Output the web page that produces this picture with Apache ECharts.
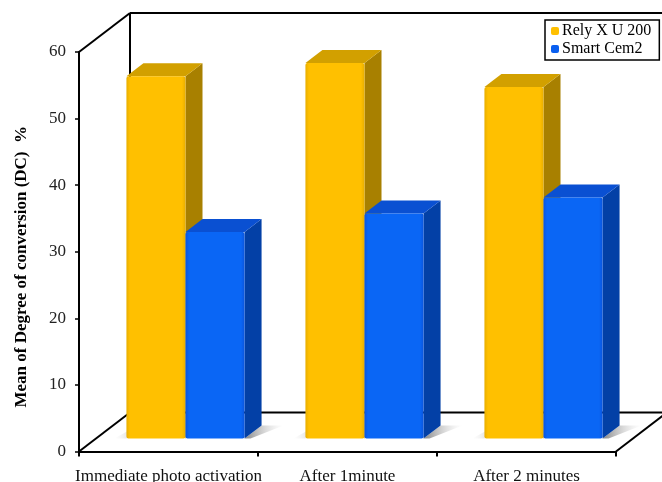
<!DOCTYPE html>
<html>
<head>
<meta charset="utf-8">
<script src="https://cdn.jsdelivr.net/npm/echarts@6/dist/echarts.min.js"></script>
<style>
html,body{margin:0;padding:0;background:#fff;}
#chart{width:662px;height:482px;}
</style>
</head>
<body>
<div id="chart"></div>
<script>
var categories = ['Immediate photo activation', 'After 1minute', 'After 2 minutes'];
var relyX = [54.4, 56.4, 52.8];
var smartCem = [31.0, 33.8, 36.2];
var yTicks = [0, 10, 20, 30, 40, 50, 60];

var DX = 51, DY = -39;          // depth of the 3D box
var BDX = DX / 3, BDY = DY / 3;  // bar depth
var SERIF = '"Liberation Serif", "Times New Roman", serif';

function barRenderer(seriesIdx, colors) {
  return function (params, api) {
    var ci = api.value(0), v = api.value(1);
    var base = api.coord([ci, 0]);
    var topP = api.coord([ci, v]);
    var cw = api.size([1, 0])[0];
    var w = cw * 0.33;
    var cx = base[0] + BDX;
    var xL = seriesIdx === 0 ? cx - w : cx;
    var xR = xL + w;
    var y0 = base[1] + BDY;
    var yt = topP[1] + BDY;
    var children = [];
    // floor shadow
    if (seriesIdx === 1) {
      children.push({
        type: 'polygon',
        shape: { points: [[xR, y0], [xR + BDX, y0 + BDY], [xR + BDX + 22, y0 + BDY], [xR + 6, y0]] },
        style: { fill: new echarts.graphic.LinearGradient(0, 0, 1, 0, [
          { offset: 0, color: 'rgba(90,90,90,0.75)' }, { offset: 1, color: 'rgba(200,200,200,0)' }]) }
      });
    } else {
      children.push({
        type: 'polygon',
        shape: { points: [[xL - 12, y0], [xL, y0], [xL + BDX, y0 + BDY], [xL + BDX - 6, y0 + BDY]] },
        style: { fill: new echarts.graphic.LinearGradient(1, 0, 0, 0, [
          { offset: 0, color: 'rgba(120,120,120,0.6)' }, { offset: 1, color: 'rgba(200,200,200,0)' }]) }
      });
    }
    // side face
    children.push({
      type: 'polygon',
      shape: { points: [[xR, yt], [xR + BDX, yt + BDY], [xR + BDX, y0 + BDY], [xR, y0]] },
      style: { fill: colors.side }
    });
    // top face
    children.push({
      type: 'polygon',
      shape: { points: [[xL, yt], [xR, yt], [xR + BDX, yt + BDY], [xL + BDX, yt + BDY]] },
      style: { fill: colors.top }
    });
    // front face
    children.push({
      type: 'rect',
      shape: { x: xL, y: yt, width: w, height: y0 - yt, r: 2 },
      style: { fill: new echarts.graphic.LinearGradient(0, 0, 1, 0, [
        { offset: 0, color: colors.edge }, { offset: 0.06, color: colors.front },
        { offset: 0.94, color: colors.front }, { offset: 1, color: colors.edge }]) }
    });
    return { type: 'group', children: children };
  };
}

function frameRenderer(params, api) {
  var cs = params.coordSys;
  var x = cs.x, y = cs.y, w = cs.width, h = cs.height;
  var ls = { stroke: '#000', lineWidth: 2 };
  var lines = [
    [x, y, x + DX, y + DY],
    [x, y + h, x + DX, y + h + DY],
    [x + DX, y + DY, x + DX, y + h + DY],
    [x + DX, y + DY, x + w + DX, y + DY],
    [x + DX, y + h + DY, x + w + DX, y + h + DY],
    [x + w, y + h, x + w + DX, y + h + DY]
  ];
  return {
    type: 'group',
    children: lines.map(function (l) {
      return { type: 'line', shape: { x1: l[0], y1: l[1], x2: l[2], y2: l[3] }, style: ls };
    })
  };
}

var chart = echarts.init(document.getElementById('chart'), null, { renderer: 'canvas' });
chart.setOption({
  backgroundColor: '#fff',
  animation: false,
  grid: { left: 79, right: 46, top: 52, bottom: 30.5, containLabel: false, outerBoundsMode: 'none' },
  legend: {
    data: ['Rely X U 200', 'Smart Cem2'],
    orient: 'vertical',
    left: 545, top: 20,
    padding: [3, 8, 3, 6],
    itemGap: 2,
    itemWidth: 8, itemHeight: 8,
    borderColor: '#000', borderWidth: 1.5,
    textStyle: { fontFamily: SERIF, fontSize: 16, color: '#000', padding: [0, 0, 0, -2] }
  },
  xAxis: {
    type: 'category',
    data: categories,
    axisLine: { lineStyle: { color: '#000', width: 2 } },
    axisTick: { show: true, length: 5, lineStyle: { color: '#000', width: 2 } },
    axisLabel: { interval: 0, fontFamily: SERIF, fontSize: 17, color: '#111', margin: 17 }
  },
  yAxis: {
    type: 'value',
    min: yTicks[0], max: yTicks[yTicks.length - 1], interval: 10,
    name: 'Mean of Degree of conversion (DC)  %',
    nameLocation: 'middle',
    nameRotate: 90,
    nameGap: 49,
    nameTextStyle: { fontFamily: SERIF, fontSize: 17, fontWeight: 'bold', color: '#000', padding: [0, 30, 0, 0] },
    axisLine: { show: true, lineStyle: { color: '#000', width: 2 } },
    axisTick: { show: true, length: 4, lineStyle: { color: '#000', width: 1.5 } },
    axisLabel: { fontFamily: SERIF, fontSize: 17, color: '#222', margin: 13 },
    splitLine: { show: false }
  },
  series: [
    {
      type: 'custom', name: 'frame', renderItem: frameRenderer,
      data: [[0, 0]], clip: false, z: 1, silent: true
    },
    {
      type: 'custom', name: 'Rely X U 200', z: 2,
      itemStyle: { color: '#FFC000' },
      renderItem: barRenderer(0, { front: '#FFC000', edge: '#E8AE00', top: '#D2A000', side: '#A88000' }),
      data: relyX.map(function (v, i) { return [i, v]; }),
      clip: false
    },
    {
      type: 'custom', name: 'Smart Cem2', z: 3,
      itemStyle: { color: '#0A5FF0' },
      renderItem: barRenderer(1, { front: '#0A66F5', edge: '#0A55DD', top: '#0A50D2', side: '#0340A6' }),
      data: smartCem.map(function (v, i) { return [i, v]; }),
      clip: false
    }
  ]
});
</script>
</body>
</html>
